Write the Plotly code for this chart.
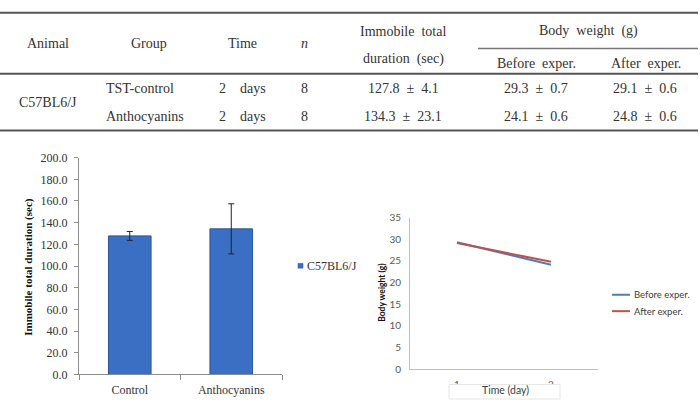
import plotly.graph_objects as go

# ---------------- data ----------------
groups = ["Control", "Anthocyanins"]
table_groups = ["TST-control", "Anthocyanins"]
animal = "C57BL6/J"
time_days = ["2  days", "2  days"]
n_animals = [8, 8]
immobile_mean = [127.8, 134.3]
immobile_sd = [4.1, 23.1]
before_mean = [29.3, 24.1]
before_sd = [0.7, 0.6]
after_mean = [29.1, 24.8]
after_sd = [0.6, 0.6]
days = ["1", "2"]
bar_ticks = [0, 20, 40, 60, 80, 100, 120, 140, 160, 180, 200]

W, H = 700, 407
def X(px):
    return px / W
def Y(py):
    return 1 - py / H

NB = "\u00a0"
def sp(s):
    return s.replace(" ", NB + NB)
def pm(m, s):
    return f"{m}{NB}{NB}±{NB}{NB}{s}"

SERIF = "Liberation Serif, Times New Roman, serif"
SANS = "Lato, Open Sans, sans-serif"
TXT = "#333333"

fig = go.Figure()

# ---------------- bar chart ----------------
fig.add_trace(go.Bar(
    x=groups, y=immobile_mean, width=0.42,
    marker=dict(color="#3A6FC4", line=dict(color="#2A559C", width=1)),
    error_y=dict(type="data", array=immobile_sd, color="#222222", thickness=1, width=3),
    xaxis="x", yaxis="y", showlegend=False, name=animal,
))

# ---------------- line chart ----------------
fig.add_trace(go.Scatter(
    x=days, y=before_mean, mode="lines", line=dict(color="#4A7EBB", width=2),
    xaxis="x2", yaxis="y2", showlegend=False, name="Before exper.",
))
fig.add_trace(go.Scatter(
    x=days, y=after_mean, mode="lines", line=dict(color="#C0504D", width=2),
    xaxis="x2", yaxis="y2", showlegend=False, name="After exper.",
))

shapes = []
ann = []

# ---------------- table ----------------
for yy, w, c in [(6, 2, "#555555"), (69, 2, "#555555"), (128, 2, "#555555")]:
    shapes.append(dict(type="line", xref="paper", yref="paper", x0=X(0), x1=X(698),
                       y0=Y(yy), y1=Y(yy), line=dict(color=c, width=w)))
shapes.append(dict(type="line", xref="paper", yref="paper", x0=X(478), x1=X(698),
                   y0=Y(43), y1=Y(43), line=dict(color="#777777", width=1.5)))

def tx(text, x, y, anchor="center", size=14, style="normal"):
    ann.append(dict(text=text, x=X(x), y=Y(y), xref="paper", yref="paper",
                    xanchor=anchor, yanchor="middle", showarrow=False,
                    font=dict(family=SERIF, size=size, color=TXT, style=style)))

tx("Animal", 48, 38)
tx("Group", 149, 38)
tx("Time", 242, 38)
tx("n", 304, 38, style="italic")
tx(sp("Immobile total"), 403, 25)
tx(sp("duration (sec)"), 403, 54)
tx(sp("Body weight (g)"), 588, 25)
tx(sp("Before exper."), 536, 59)
tx(sp("After exper."), 646, 59)
tx(animal, 48, 99)
row_y = [84, 113]
for i in range(2):
    tx(table_groups[i], 104, row_y[i], anchor="left")
    tx(sp(time_days[i]), 242, row_y[i])
    tx(str(n_animals[i]), 304, row_y[i])
    tx(pm(immobile_mean[i], immobile_sd[i]), 403, row_y[i])
    tx(pm(before_mean[i], before_sd[i]), 536, row_y[i])
    tx(pm(after_mean[i], after_sd[i]), 645, row_y[i])

# ---------------- bar chart decorations ----------------
ann.append(dict(text="<b>Immobile total duration (sec)</b>", x=X(29), y=Y(269),
                xref="paper", yref="paper", xanchor="center", yanchor="middle",
                textangle=-90, showarrow=False,
                font=dict(family=SERIF, size=11, color="#111111")))
shapes.append(dict(type="rect", xref="paper", yref="paper", x0=X(298), x1=X(303),
                   y0=Y(270.5), y1=Y(265.5), fillcolor="#3A6FC4",
                   line=dict(color="#2A559C", width=0.5)))
ann.append(dict(text=animal, x=X(305), y=Y(268), xref="paper", yref="paper",
                xanchor="left", yanchor="middle", showarrow=False,
                font=dict(family=SERIF, size=12, color=TXT)))

# ---------------- line chart decorations ----------------
ann.append(dict(text="<b>Body weight (g)</b>", x=X(382), y=Y(296),
                xref="paper", yref="paper", xanchor="center", yanchor="middle",
                textangle=-90, showarrow=False,
                font=dict(family=SANS, size=8.5, color="#111111")))
for yy, col, lab in [(298, "#4A7EBB", "Before exper."), (315, "#C0504D", "After exper.")]:
    shapes.append(dict(type="line", xref="paper", yref="paper", x0=X(612), x1=X(630),
                       y0=Y(yy), y1=Y(yy), line=dict(color=col, width=2)))
    ann.append(dict(text=lab, x=X(632), y=Y(yy), xref="paper", yref="paper",
                    xanchor="left", yanchor="middle", showarrow=False,
                    font=dict(family=SANS, size=9.5, color="#404040")))
# x-axis title box (overlaps tick labels as in the source)
shapes.append(dict(type="rect", xref="paper", yref="paper", x0=X(449), x1=X(560),
                   y0=Y(406), y1=Y(391), fillcolor="white",
                   line=dict(color="#e6e6e6", width=1), layer="above"))
ann.append(dict(text="Time (day)", x=X(505), y=Y(397), xref="paper", yref="paper",
                xanchor="center", yanchor="middle", showarrow=False,
                font=dict(family=SANS, size=10.5, color="#404040")))

fig.update_layout(
    width=W, height=H, margin=dict(l=0, r=0, t=0, b=0),
    paper_bgcolor="white", plot_bgcolor="rgba(0,0,0,0)",
    showlegend=False, bargap=0.58,
    xaxis=dict(domain=[X(79), X(282)], anchor="y", type="category", range=[-0.5, 1.5],
               showline=True, linecolor="#8c8c8c", linewidth=1, ticks="outside",
               tickson="boundaries", ticklen=5, tickcolor="#8c8c8c",
               tickfont=dict(family=SERIF, size=12, color=TXT), showgrid=False,
               zeroline=False, ticklabelstandoff=4),
    yaxis=dict(domain=[Y(380.5), Y(156)], anchor="x", range=[0, 200],
               tickvals=bar_ticks, tickformat=".1f",
               showline=True, linecolor="#8c8c8c", linewidth=1, ticks="outside",
               ticklen=4, tickcolor="#8c8c8c",
               tickfont=dict(family=SERIF, size=12, color=TXT), showgrid=False,
               zeroline=False, ticklabelstandoff=4),
    xaxis2=dict(domain=[X(410), X(598)], anchor="y2", type="category", range=[-0.5, 1.5],
                showline=True, linecolor="#bfbfbf", linewidth=1, ticks="",
                tickfont=dict(family=SANS, size=10, color="#595959"), showgrid=False,
                zeroline=False, ticklabelstandoff=6),
    yaxis2=dict(domain=[Y(375), Y(218)], anchor="x2", range=[0, 35], dtick=5,
                showline=True, linecolor="#bfbfbf", linewidth=1, ticks="",
                tickfont=dict(family=SANS, size=10, color="#595959"), showgrid=False,
                zeroline=False, ticklabelstandoff=6),
    shapes=shapes, annotations=ann,
)

fig.write_html("out.html")
